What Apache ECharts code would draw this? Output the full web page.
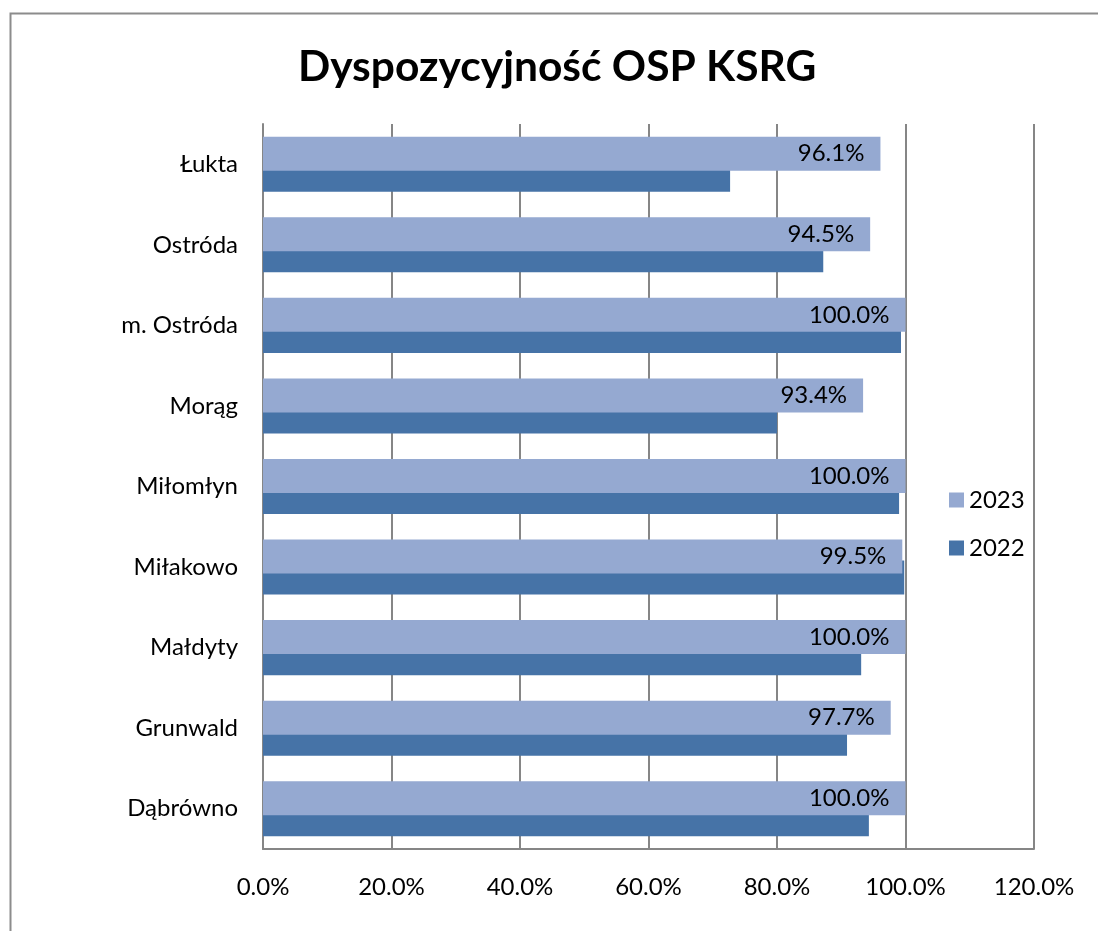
<!DOCTYPE html>
<html>
<head>
<meta charset="utf-8">
<script src="https://cdn.jsdelivr.net/npm/echarts@6/dist/echarts.min.js"></script>
<style>
  html, body { margin: 0; padding: 0; background: #fff; }
  #chart { width: 1098px; height: 931px; }
</style>
</head>
<body>
<div id="chart"></div>
<script>
// gminy, od góry do dołu
const categories = ['Łukta', 'Ostróda', 'm. Ostróda', 'Morąg', 'Miłomłyn', 'Miłakowo', 'Małdyty', 'Grunwald', 'Dąbrówno']
const values2023 = [96.1, 94.5, 100.0, 93.4, 100.0, 99.5, 100.0, 97.7, 100.0]
const values2022 = [72.7, 87.2, 99.3, 80.0, 99.0, 99.8, 93.1, 90.9, 94.3]
const xTicks = [0, 20, 40, 60, 80, 100, 120]

const font = 'Lato, "Open Sans", sans-serif'
const gridColor = '#868686'

const chart = echarts.init(document.getElementById('chart'))
chart.setOption({
  animation: false,
  backgroundColor: '#fff',
  textStyle: { fontFamily: font },
  title: {
    text: 'Dyspozycyjność OSP KSRG',
    left: 293,
    top: 41,
    textStyle: { fontSize: 42.5, fontWeight: 'bold', color: '#000', fontFamily: font }
  },
  graphic: [{
    type: 'rect',
    left: 8, top: 11,
    shape: { width: 1200, height: 1000 },
    style: { fill: 'none', stroke: '#8c8c8c', lineWidth: 2 },
    silent: true
  }],
  legend: {
    orient: 'vertical',
    left: 944,
    top: 483,
    itemWidth: 15,
    itemHeight: 15,
    itemGap: 24,
    icon: 'rect',
    data: ['2023', '2022'],
    textStyle: { fontSize: 24, color: '#000', fontFamily: font }
  },
  grid: { left: 263, right: 64, top: 124, bottom: 82, containLabel: false },
  xAxis: {
    type: 'value',
    min: xTicks[0],
    max: xTicks[xTicks.length - 1],
    interval: 20,
    axisLine: { show: true, lineStyle: { color: gridColor, width: 2 } },
    axisTick: { show: false },
    splitLine: { show: true, lineStyle: { color: gridColor, width: 2 } },
    axisLabel: {
      margin: 26,
      fontSize: 24,
      color: '#000',
      formatter: v => v.toFixed(1) + '%'
    }
  },
  yAxis: {
    type: 'category',
    inverse: true,
    data: categories,
    axisLine: { show: true, lineStyle: { color: gridColor, width: 2 } },
    axisTick: { show: false },
    axisLabel: { margin: 25, fontSize: 24, color: '#000' }
  },
  series: [
    {
      name: '2023',
      type: 'bar',
      data: values2023,
      barWidth: 34,
      barGap: '-38%',
      z: 3,
      itemStyle: { color: '#95A9D1' },
      label: {
        show: true,
        position: 'insideRight',
        distance: 16,
        fontSize: 24,
        color: '#000',
        formatter: p => p.value.toFixed(1) + '%'
      }
    },
    {
      name: '2022',
      type: 'bar',
      data: values2022,
      barWidth: 34,
      barGap: '-38%',
      z: 2,
      itemStyle: { color: '#4673A7' }
    }
  ]
})
</script>
</body>
</html>
